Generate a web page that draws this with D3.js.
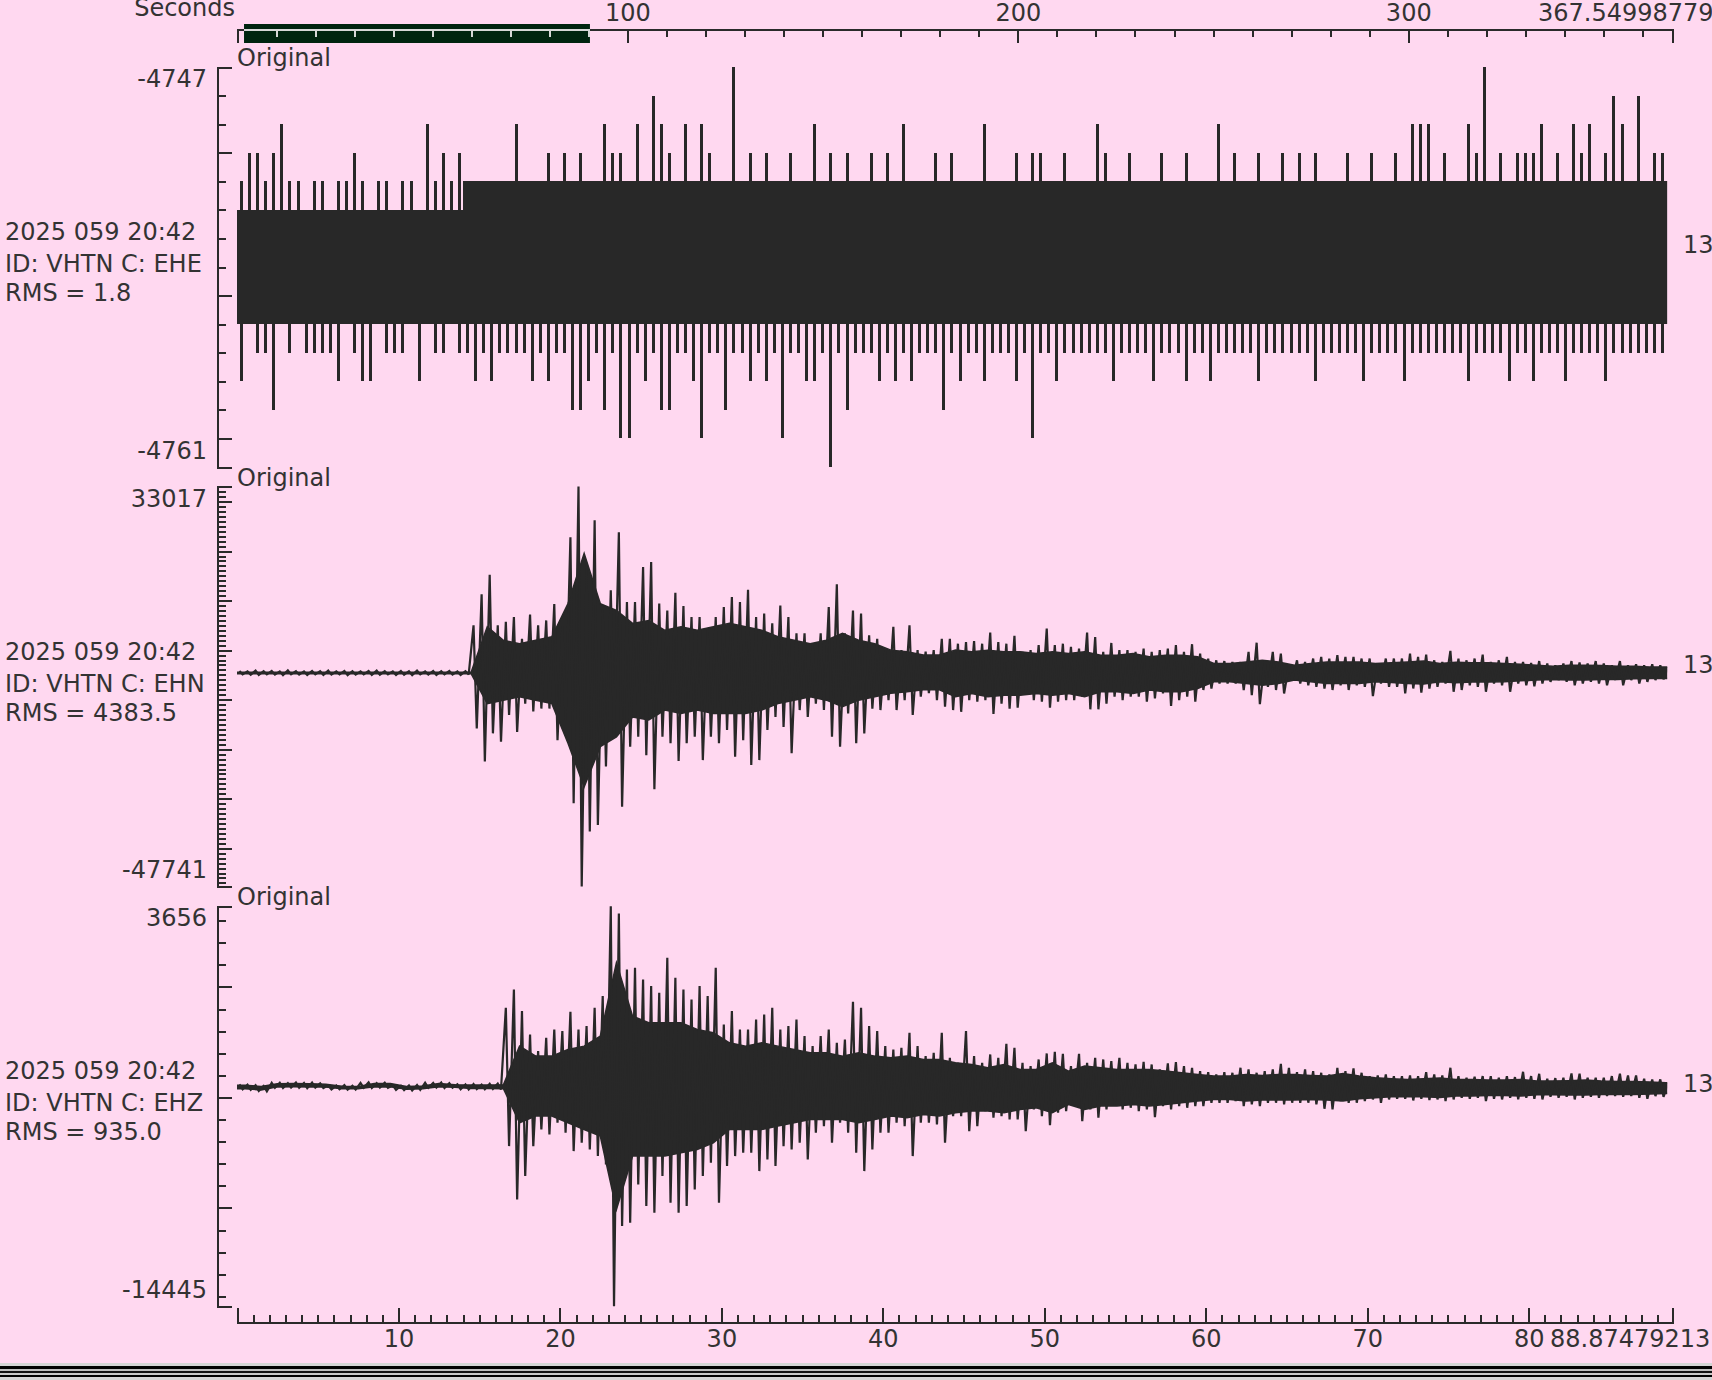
<!DOCTYPE html>
<html><head><meta charset="utf-8">
<script src="https://cdn.jsdelivr.net/npm/d3@7"></script>
<style>
html,body{margin:0;padding:0;background:#ffd8f0;overflow:hidden}
svg{display:block}
text{font-family:"DejaVu Sans",sans-serif;font-size:24px;fill:#333}
.ax path,.ax line{stroke:#2a2a2a;stroke-width:2;shape-rendering:crispEdges;fill:none}
.axl path,.axl line{stroke:#d6d6d6;stroke-width:2;shape-rendering:crispEdges;fill:none}
</style></head><body>
<script>
// ---------------- data ----------------
const dateLabel = "2025 059 20:42";
const stationId = "VHTN";
const channels = ["EHE", "EHN", "EHZ"];
const rmsValues = ["1.8", "4383.5", "935.0"];
const traceMax = [-4747, 33017, 3656];
const traceMin = [-4761, -47741, -14445];
const minorStep = [1, 1000, 1000];
const majorStep = [5, 10000, 5000];
const windowEnd = 88.87479213;      // seconds shown
const recordEnd = 367.54998779;     // full record length
const windowSel = [1.8, 90.4];      // highlighted window on the record bar
const bottomTicks = [10, 20, 30, 40, 50, 60, 70, 80];
const topTicks = [100, 200, 300];
const binSeconds = 0.5;   // extremes per half second
const coreSeconds = 1;    // dense core per second

// EHE (counts) extremes per 0.5 s
const eheHigh = [-4751,-4750,-4750,-4751,-4750,-4749,-4751,-4751,-4752,-4751,-4751,-4752,-4751,-4751,-4750,-4751,-4752,-4751,-4751,-4752,-4751,-4751,-4752,-4749,-4751,-4750,-4751,-4750,
-4751,-4751,-4751,-4751,-4751,-4751,-4749,-4751,-4751,-4751,
-4750,-4751,-4750,-4751,-4750,-4751,-4751,-4749,-4750,-4750,
-4751,-4749,-4751,-4748,-4749,-4750,-4751,-4749,-4751,-4749,
-4750,-4751,-4751,-4747,-4751,-4750,-4751,-4750,-4751,-4751,
-4750,-4751,-4751,-4749,-4751,-4750,-4751,-4750,-4751,-4751,
-4750,-4751,-4750,-4751,-4749,-4751,-4751,-4751,-4750,-4751,
-4750,-4751,-4751,-4751,-4749,-4751,-4751,-4751,-4750,-4751,
-4750,-4750,-4751,-4751,-4750,-4751,-4751,-4751,-4749,-4750,
-4751,-4751,-4750,-4751,-4751,-4751,-4750,-4751,-4751,-4750,
-4751,-4751,-4751,-4749,-4751,-4750,-4751,-4751,-4750,-4751,
-4751,-4750,-4751,-4750,-4751,-4750,-4751,-4751,-4751,-4750,
-4751,-4751,-4750,-4751,-4751,-4750,-4751,-4749,-4749,-4749,
-4751,-4750,-4751,-4751,-4749,-4750,-4747,-4751,-4750,-4751,
-4750,-4750,-4750,-4749,-4751,-4750,-4751,-4749,-4750,-4749,
-4751,-4750,-4748,-4749,-4751,-4748,-4751,-4750,-4750,-4750];
const eheLow = [-4758,-4756,-4757,-4757,-4759,-4756,-4757,-4756,-4757,-4757,-4757,-4757,-4758,-4756,-4757,-4758,-4758,-4756,-4757,-4757,-4757,-4756,-4758,-4756,-4757,-4757,-4756,-4757,
-4757,-4758,-4757,-4758,-4757,-4757,-4757,-4757,-4758,-4757,
-4758,-4757,-4757,-4759,-4759,-4758,-4757,-4759,-4757,-4760,
-4760,-4757,-4758,-4757,-4759,-4759,-4757,-4757,-4758,-4760,
-4757,-4757,-4759,-4757,-4757,-4758,-4757,-4758,-4757,-4760,
-4757,-4757,-4758,-4758,-4757,-4761,-4757,-4759,-4757,-4757,
-4757,-4758,-4757,-4758,-4757,-4758,-4757,-4757,-4757,-4759,
-4757,-4758,-4757,-4757,-4758,-4757,-4757,-4757,-4758,-4757,
-4760,-4757,-4757,-4758,-4757,-4757,-4757,-4757,-4757,-4757,
-4758,-4757,-4757,-4757,-4757,-4758,-4757,-4757,-4757,-4758,
-4757,-4757,-4758,-4757,-4757,-4757,-4757,-4757,-4758,-4757,
-4757,-4757,-4757,-4757,-4757,-4758,-4757,-4757,-4757,-4757,
-4757,-4758,-4757,-4757,-4757,-4757,-4758,-4757,-4757,-4757,
-4757,-4757,-4757,-4757,-4758,-4757,-4757,-4757,-4757,-4758,
-4757,-4757,-4758,-4757,-4757,-4757,-4758,-4757,-4757,-4757,
-4757,-4758,-4757,-4757,-4757,-4757,-4757,-4757,-4757,-4757];
const eheCoreHigh = [-4752,-4752,-4752,-4752,-4752,-4752,-4752,-4752,-4752,-4752,-4752,-4752,-4752,-4752,
-4751,-4751,-4751,-4751,-4751,-4751,-4751,-4751,-4751,-4751,-4751,-4751,-4751,-4751,-4751,-4751,
-4751,-4751,-4751,-4751,-4751,-4751,-4751,-4751,-4751,-4751,-4751,-4751,-4751,-4751,-4751,-4751,
-4751,-4751,-4751,-4751,-4751,-4751,-4751,-4751,-4751,-4751,-4751,-4751,-4751,-4751,-4751,-4751,
-4751,-4751,-4751,-4751,-4751,-4751,-4751,-4751,-4751,-4751,-4751,-4751,-4751,-4751,-4751,-4751,
-4751,-4751,-4751,-4751,-4751,-4751,-4751,-4751,-4751,-4751,-4751];
const eheCoreLow = [-4756,-4756,-4756,-4756,-4756,-4756,-4756,-4756,-4756,-4756,-4756,-4756,-4756,-4756,
-4756,-4756,-4756,-4756,-4756,-4756,-4756,-4756,-4756,-4756,-4756,-4756,-4756,-4756,-4756,-4756,
-4756,-4756,-4756,-4756,-4756,-4756,-4756,-4756,-4756,-4756,-4756,-4756,-4756,-4756,-4756,-4756,
-4756,-4756,-4756,-4756,-4756,-4756,-4756,-4756,-4756,-4756,-4756,-4756,-4756,-4756,-4756,-4756,
-4756,-4756,-4756,-4756,-4756,-4756,-4756,-4756,-4756,-4756,-4756,-4756,-4756,-4756,-4756,-4756,
-4756,-4756,-4756,-4756,-4756,-4756,-4756,-4756,-4756,-4756,-4756];

// EHN (counts)
const ehnHigh = [-4200,-4300,-4150,-4250,-4200,-4300,-4100,-4250,-4300,-4200,-4250,-4150,-4300,-4200,-4250,-4300,-4200,-4150,-4250,-4300,-4200,-4250,-4150,-4300,-4200,-4250,-4200,-4300,-4250,
5000,11300,15200,5000,5700,6700,2300,7200,5000,6000,
9300,4700,22800,33017,17600,26200,8000,12100,23800,9700,
9700,16800,17800,9400,8000,11600,8900,6700,6700,4000,
6700,8700,10700,9700,12200,6700,7400,5400,9000,6700,
3400,3400,1300,3400,8700,13300,3400,8000,7400,3000,
2300,0,4700,0,5000,0,-300,0,2300,
2300,1300,1650,1850,1300,3550,1650,1300,2900,-350,
0,1000,4350,1000,1300,650,300,3550,2650,-350,
1450,0,0,-350,300,-350,0,300,1000,-350,
1200,-700,-1700,-2050,-2200,-2400,-2400,-350,1500,-2050,
-350,-700,-3050,-2050,-2400,-1700,-1350,-1700,-1000,-1350,
-1350,-1700,-1700,-2700,-1700,-1700,-1700,-700,-1350,-900,
-2050,-2400,-150,-1700,-2050,-1700,-900,-2400,-2050,-1350,
-2400,-2400,-2600,-2200,-2700,-3050,-2700,-2200,-2500,-2700,
-2200,-2700,-3050,-2200,-3050,-2850,-3050,-2850,-3050,-3400];
const ehnLow = [-4900,-4950,-5000,-4900,-4950,-5050,-4900,-4950,-5000,-4900,-5000,-4950,-4900,-5050,-4950,-4900,-5000,-4950,-4900,-5000,-4950,-5050,-4900,-4950,-5000,-4900,-4950,-5000,-4900,
-15800,-22500,-16800,-18500,-13100,-16500,-10800,-12400,-11800,-11800,
-18200,-14100,-30900,-47741,-36600,-35300,-23500,-17500,-31600,-19500,
-17500,-21200,-28100,-17500,-18800,-22400,-18800,-17500,-22200,-17500,
-18800,-16100,-21500,-18200,-23200,-22200,-16100,-13500,-15500,-20800,
-12100,-13500,-10800,-12100,-17500,-19500,-12800,-18800,-16800,-11800,
-12100,-10100,-12100,-10100,-13100,-9400,-8700,-10100,-11400,
-12100,-12450,-10100,-10400,-10100,-12900,-10800,-11800,-11600,-8400,
-10100,-10400,-11600,-10400,-10100,-10100,-9400,-11950,-11950,-10800,
-9400,-10100,-9400,-9400,-10400,-9750,-8750,-11250,-10100,-9400,
-10400,-8050,-7750,-6750,-6750,-6750,-8050,-9100,-10900,-7400,
-8050,-8750,-6050,-6750,-7100,-7400,-7750,-8050,-7100,-8050,
-7100,-7400,-9300,-6750,-7400,-7400,-8750,-7750,-8600,-7750,
-7400,-6750,-8400,-8050,-7100,-7400,-8400,-6750,-7100,-8400,
-6750,-7100,-7300,-6750,-6400,-6050,-6400,-7100,-6750,-6400,
-6750,-7100,-6050,-7100,-6050,-6750,-6400,-6050,-5900,-4850];
const ehnCoreHigh = [-4450,-4450,-4450,-4450,-4450,-4450,-4450,-4450,-4450,-4450,-4450,-4450,-4450,-4450,-4450,
4700,2000,1300,2000,2700,9400,19500,9400,8000,5400,
6000,4000,4700,4000,4700,5400,4700,4000,2700,2000,
1300,2000,3400,2000,1300,0,-300,-1000,-1000,
0,-350,0,-350,-350,-700,-350,-700,-350,-1050,
-1050,-700,-1350,-1050,-1050,-1350,-2700,-2700,-2400,-2050,
-2400,-3050,-2700,-2400,-2400,-2400,-2700,-2550,-2400,-2200,
-2700,-2450,-2550,-2550,-2700,-2850,-3050,-3250,-3050,-3050,
-3100,-3250,-3250,-3400,-3400];
const ehnCoreLow = [-4750,-4750,-4750,-4750,-4750,-4750,-4750,-4750,-4750,-4750,-4750,-4750,-4750,-4750,-4750,
-10800,-10100,-9400,-10100,-10800,-18800,-27600,-19500,-17500,-13500,
-14100,-12100,-12800,-12100,-12800,-12800,-12800,-12100,-10800,-10100,
-9400,-10100,-11400,-10100,-9400,-8700,-8400,-8000,-8000,
-9400,-8750,-9400,-9100,-9100,-8750,-9100,-8750,-9400,-8400,
-8400,-8750,-8050,-8400,-8400,-7750,-6400,-6400,-6750,-7100,
-6750,-6050,-6400,-6750,-6750,-6750,-6400,-6550,-6750,-6850,
-6400,-6600,-6450,-6450,-6400,-6200,-6050,-5950,-6050,-6050,
-5950,-5950,-5800,-5750,-5750];

// EHZ (counts)
const ehzHigh = [-4410,-4420,-4450,-4480,-4340,-4330,-4350,-4320,-4340,-4330,
-4360,-4450,-4460,-4440,-4470,-4340,-4320,-4350,-4330,-4450,
-4470,-4460,-4440,-4330,-4340,-4320,-4350,-4400,-4410,-4390,
-4420,-4380,-4370,
-941,-112,-1092,-2148,-2902,-2299,-1922,-1997,-1122,-1922,
-1771,-941,-414,3656,3326,793,868,340,39,-263,
1321,416,-112,-564,39,-414,868,-1695,-1092,-1922,
-1922,-1469,-1243,-941,-1922,-1771,-1469,-2223,-2676,-2223,
-1922,-2525,-2374,-670,-941,-1771,-1997,-2676,-2827,-2751,
-2072,-2676,-3128,-2977,-2072,
-3203,-3430,-1997,-3128,-3430,-3053,-3203,-2570,-2751,-3430,
-3580,-3279,-3007,-2932,-3022,-3580,-3022,-3430,-3203,-3279,
-3354,-3203,-3430,-3505,-3384,-3505,-3731,-3460,-3399,-3580,
-3656,-3807,-3852,-3957,-3852,-3882,-3656,-3731,-3882,-3807,
-3731,-3475,-3656,-3852,-3731,-3807,-3882,-3957,-3656,-3807,
-3686,-3882,-4033,-4002,-3957,-4033,-4033,-4002,-4033,-3852,
-3957,-4002,-3656,-4033,-4108,-4063,-4033,-4033,-4108,-4033,
-4078,-3837,-4033,-3927,-4153,-4123,-4108,-3912,-3927,-4108,
-4108,-4108,-4033,-3927,-4002,-4002,-4153,-4183,-4183,-4334];
const ehzLow = [-4630,-4650,-4700,-4720,-4560,-4570,-4550,-4560,-4580,-4550,
-4570,-4640,-4630,-4650,-4640,-4560,-4570,-4550,-4560,-4660,
-4670,-4680,-4650,-4560,-4550,-4570,-4560,-4630,-4640,-4620,
-4630,-4610,-4640,
-7200,-9612,-8557,-7200,-6446,-6672,-6144,-6596,-7426,-7049,
-7350,-7652,-8029,-14445,-10819,-10668,-8934,-9914,-10216,-8557,
-9763,-10216,-9914,-9160,-8557,-7954,-9763,-8104,-7652,-7501,
-7501,-8331,-7803,-8104,-7200,-7350,-7049,-7803,-6596,-6295,
-7049,-6144,-6596,-7501,-8331,-7350,-6596,-6596,-6144,-6295,
-7652,-6144,-6144,-6220,-7049,
-5842,-5842,-6521,-6295,-5616,-5918,-5842,-5993,-5993,-6521,
-5541,-5842,-6250,-5691,-5616,-5239,-6069,-5541,-5918,-5541,
-5315,-5541,-5465,-5616,-5541,-5888,-5390,-5541,-5390,-5465,
-5390,-5390,-5239,-5239,-5239,-5164,-5390,-5315,-5390,-5239,
-5239,-5315,-5239,-5239,-5239,-5315,-5510,-5541,-5164,-5239,
-5239,-5164,-5088,-5239,-5088,-5058,-5058,-5134,-5058,-5119,
-5088,-5164,-5088,-5013,-5058,-5013,-5164,-5058,-5088,-5013,
-5088,-5013,-5058,-5088,-4968,-5013,-4968,-5088,-5013,-4968,
-5013,-4938,-4938,-4968,-4938,-5013,-5058,-4938,-4968,-4636];
const ehzCoreHigh = [-4450,-4500,-4380,-4370,-4380,-4400,-4490,-4500,-4370,-4370,-4500,-4480,-4370,-4420,-4440,-4440,-4420,
-2676,-3128,-3128,-2827,-2676,-2223,1094,-1318,-1620,-1620,
-1620,-1922,-2072,-2525,-2676,-2525,-2676,-2827,-2977,-2977,
-3128,-2977,-3128,-3203,-3128,-3279,-3279,
-3430,-3505,-3656,-3505,-3731,-3731,-3430,-3807,-3580,-3656,
-3731,-3731,-3731,-3807,-3882,-3957,-4033,-4033,-3957,-4002,
-3957,-3957,-4002,-4033,-3912,-4033,-4108,-4153,-4183,-4153,
-4123,-4183,-4183,-4214,-4214,-4183,-4259,-4259,-4244,-4214,
-4259,-4274,-4274,-4304,-4334];
const ehzCoreLow = [-4600,-4660,-4520,-4520,-4530,-4530,-4600,-4600,-4520,-4520,-4630,-4610,-4520,-4540,-4590,-4590,-4600,
-6144,-5842,-5842,-6144,-6446,-6747,-10065,-7652,-7652,-7652,
-7501,-7350,-7049,-6446,-6446,-6446,-6295,-6144,-5993,-5993,
-5993,-6144,-5993,-5842,-5918,-5767,-5842,
-5691,-5616,-5616,-5691,-5541,-5465,-5691,-5315,-5541,-5390,
-5390,-5315,-5390,-5315,-5239,-5164,-5088,-5088,-5164,-5119,
-5119,-5119,-5088,-5119,-5164,-5058,-5013,-4968,-4968,-4968,
-4998,-4938,-4938,-4907,-4907,-4938,-4877,-4877,-4892,-4892,
-4862,-4862,-4862,-4847,-4817];

const traces = [
  {high: eheHigh, low: eheLow, coreHigh: eheCoreHigh, coreLow: eheCoreLow},
  {high: ehnHigh, low: ehnLow, coreHigh: ehnCoreHigh, coreLow: ehnCoreLow},
  {high: ehzHigh, low: ehzLow, coreHigh: ehzCoreHigh, coreLow: ehzCoreLow}
];

// ---------------- layout ----------------
const W = 1712, H = 1380;
const plotLeft = 237, plotRight = 1672, axisX = 217;
const panelTop0 = 67, panelStep = 419.6, panelH = 400;
const traceColor = "#282828";

const svg = d3.select("body").append("svg").attr("width", W).attr("height", H);
svg.append("rect").attr("width", W).attr("height", H).attr("fill", "#ffd8f0");

const x = d3.scaleLinear().domain([0, windowEnd]).range([plotLeft, plotRight]);
const xTop = d3.scaleLinear().domain([0, recordEnd]).range([plotLeft, plotRight]);

const defs = svg.append("defs");
defs.append("clipPath").attr("id", "plotClip").append("rect")
  .attr("x", plotLeft).attr("y", 0).attr("width", x(windowEnd - 0.3) - plotLeft).attr("height", H);

// ---------- top (record) axis ----------
const topG = svg.append("g").attr("class", "ax").attr("transform", "translate(0,29)");
const topMinor = d3.range(10, recordEnd, 10).filter(v => v % 100 !== 0);
topG.append("g").call(d3.axisTop(xTop).tickValues(topMinor).tickSize(-8).tickSizeOuter(0).tickFormat(""))
  .call(g => g.select(".domain").remove());
topG.append("g").call(d3.axisTop(xTop).tickValues([0, ...topTicks, recordEnd]).tickSize(-14).tickSizeOuter(-14).tickPadding(8)
  .tickFormat(d => topTicks.includes(d) ? d : ""));
svg.append("text").attr("x", xTop(recordEnd) - 134).attr("y", 21).text(recordEnd.toFixed(8));
svg.append("text").attr("x", xTop(0) - 2).attr("y", 16).attr("text-anchor", "end").text("Seconds");

// selection bar
const selX0 = xTop(windowSel[0]), selX1 = xTop(windowSel[1]);
svg.append("rect").attr("x", selX0).attr("y", 24).attr("width", selX1 - selX0).attr("height", 19).attr("fill", "#00240f");
defs.append("clipPath").attr("id", "selClip").append("rect")
  .attr("x", selX0).attr("y", 24).attr("width", selX1 - selX0).attr("height", 19);
const selG = svg.append("g").attr("clip-path", "url(#selClip)").append("g")
  .attr("class", "axl").attr("transform", "translate(0,29)");
selG.append("g").call(d3.axisTop(xTop).tickValues(topMinor).tickSize(-8).tickSizeOuter(0).tickFormat(""));

// ---------- bottom (window) axis ----------
const botG = svg.append("g").attr("class", "ax").attr("transform", "translate(0,1322)");
const botMinor = d3.range(1, windowEnd, 1).filter(v => v % 10 !== 0);
botG.append("g").call(d3.axisBottom(x).tickValues(botMinor).tickSize(-7).tickSizeOuter(0).tickFormat(""))
  .call(g => g.select(".domain").remove());
botG.append("g").call(d3.axisBottom(x).tickValues([0, ...bottomTicks, windowEnd]).tickSize(-14).tickSizeOuter(-14).tickPadding(8)
  .tickFormat(d => bottomTicks.includes(d) ? d : ""));
svg.append("text").attr("x", x(windowEnd) - 122).attr("y", 1347).text(windowEnd.toFixed(8));
svg.selectAll(".ax text").attr("font-size", 24).attr("font-family", "DejaVu Sans").attr("fill", "#333");

// ---------- panels ----------
traces.forEach((tr, k) => {
  const top = panelTop0 + k * panelStep, bottom = top + panelH, mid = top + panelH / 2;
  const y = d3.scaleLinear().domain([traceMin[k], traceMax[k]]).range([bottom, top]);
  const quantized = (traceMax[k] - traceMin[k]) < 100;   // few counts: draw as stepped levels

  // y axis
  const ay = svg.append("g").attr("class", "ax").attr("transform", `translate(${axisX},0)`);
  const minors = d3.range(Math.ceil(traceMin[k] / minorStep[k]) * minorStep[k], traceMax[k] + 1e-9, minorStep[k]);
  const majors = d3.range(Math.ceil(traceMin[k] / majorStep[k]) * majorStep[k], traceMax[k] + 1e-9, majorStep[k]);
  ay.append("g").call(d3.axisRight(y).tickValues(minors).tickSize(9).tickSizeOuter(15).tickFormat(""));
  ay.append("g").call(d3.axisRight(y).tickValues(majors).tickSize(15).tickFormat(""))
    .call(g => g.select(".domain").remove());

  svg.append("text").attr("x", 207).attr("y", top + 20).attr("text-anchor", "end").text(traceMax[k]);
  svg.append("text").attr("x", 207).attr("y", bottom - 8.5).attr("text-anchor", "end").text(traceMin[k]);
  svg.append("text").attr("x", plotLeft).attr("y", top - 1).text("Original");

  svg.append("text").attr("x", 5).attr("y", mid - 27).text(dateLabel);
  svg.append("text").attr("x", 5).attr("y", mid + 5).text(`ID: ${stationId} C: ${channels[k]}`);
  svg.append("text").attr("x", 5).attr("y", mid + 34).text(`RMS = ${rmsValues[k]}`);
  svg.append("text").attr("x", 1683).attr("y", mid - 14).text("13");

  const g = svg.append("g").attr("clip-path", "url(#plotClip)");
  if (quantized) {
    const core = tr.coreHigh.map((h, j) => ({t: j * coreSeconds, h, l: tr.coreLow[j]}));
    const last = core[core.length - 1];
    core.push({t: core.length * coreSeconds, h: last.h, l: last.l});
    g.append("path").datum(core)
      .attr("d", d3.area().x(d => x(d.t)).y0(d => y(d.l)).y1(d => y(d.h)).curve(d3.curveStepAfter))
      .attr("fill", traceColor).attr("shape-rendering", "crispEdges");
    g.selectAll(null).data(tr.high).join("rect")
      .attr("x", (d, i) => Math.round(x(i * binSeconds + binSeconds / 2)) - 1)
      .attr("width", 3)
      .attr("y", d => y(d))
      .attr("height", (d, i) => Math.max(2, y(tr.low[i]) - y(d)))
      .attr("fill", traceColor).attr("shape-rendering", "crispEdges");
  } else {
    // dense core: envelope through per-second centres
    const core = tr.coreHigh.map((h, j) => ({t: (j + 0.5) * coreSeconds, h, l: tr.coreLow[j]}));
    core.unshift({t: 0, h: core[0].h, l: core[0].l});
    core.push({t: windowEnd, h: core[core.length - 1].h, l: core[core.length - 1].l});
    g.append("path").datum(core)
      .attr("d", d3.area().x(d => x(d.t)).y0(d => y(d.l)).y1(d => y(d.h)))
      .attr("fill", traceColor).attr("stroke", traceColor).attr("stroke-width", 1.5);
    // extremes: swing from each bin's maximum to its minimum
    const pts = [];
    tr.high.forEach((h, i) => {
      pts.push({t: i * binSeconds + binSeconds * 0.3, v: h});
      pts.push({t: i * binSeconds + binSeconds * 0.7, v: tr.low[i]});
    });
    g.append("path").datum(pts)
      .attr("d", d3.line().x(d => x(d.t)).y(d => y(d.v)))
      .attr("fill", "none").attr("stroke", traceColor).attr("stroke-width", 2.2)
      .attr("stroke-linejoin", "miter").attr("stroke-miterlimit", 2);
  }
});

// ---------- window frame at bottom ----------
const frame = [["#d4d4d4", 1363, 3], ["#000", 1366, 3], ["#bdbdbd", 1369, 2], ["#111", 1371, 2],
               ["#c8c8c8", 1373, 2], ["#000", 1375, 2], ["#d4d4d4", 1377, 3]];
frame.forEach(([c, yy, h]) => svg.append("rect").attr("x", 0).attr("y", yy).attr("width", W).attr("height", h).attr("fill", c));
</script>
</body></html>
